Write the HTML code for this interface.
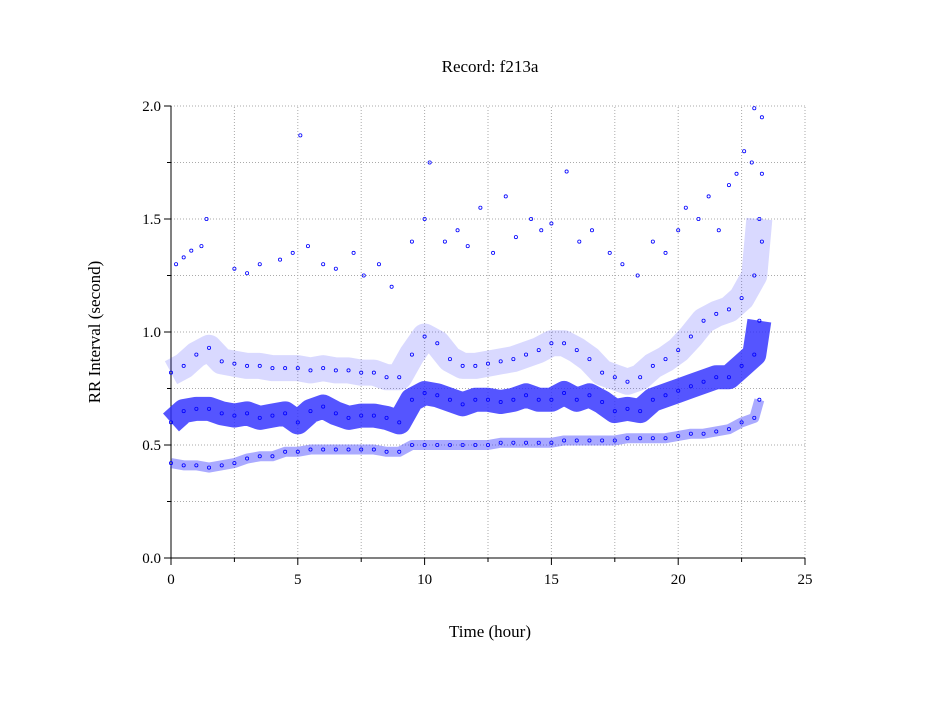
<!DOCTYPE html>
<html><head><meta charset="utf-8"><style>
body{margin:0;background:#fff}
svg text{font-family:"Liberation Serif",serif;fill:#000}
</style></head><body>
<svg id="chart" width="949" height="697">
<text x="490" y="72" font-size="17" text-anchor="middle">Record:  f213a</text>
<text x="490" y="637" font-size="17" text-anchor="middle">Time (hour)</text>
<text transform="translate(100,332) rotate(-90)" font-size="17" text-anchor="middle">RR Interval (second)</text>
<g id="grid"></g>
<g id="axes"></g>
<g id="marks"></g>
</svg>
<script>
const hours=[0,0.5,1,1.5,2,2.5,3,3.5,4,4.5,5,5.5,6,6.5,7,7.5,8,8.5,9,9.5,10,10.5,11,11.5,12,12.5,13,13.5,14,14.5,15,15.5,16,16.5,17,17.5,18,18.5,19,19.5,20,20.5,21,21.5,22,22.5,23,23.2];
const mainRR=[0.6,0.65,0.66,0.66,0.64,0.63,0.64,0.62,0.63,0.64,0.6,0.65,0.67,0.64,0.62,0.63,0.63,0.62,0.6,0.7,0.73,0.72,0.7,0.68,0.7,0.7,0.69,0.7,0.72,0.7,0.7,0.73,0.7,0.72,0.69,0.65,0.66,0.65,0.7,0.72,0.74,0.76,0.78,0.8,0.8,0.85,0.9,1.05];
const lowRR=[0.42,0.41,0.41,0.4,0.41,0.42,0.44,0.45,0.45,0.47,0.47,0.48,0.48,0.48,0.48,0.48,0.48,0.47,0.47,0.5,0.5,0.5,0.5,0.5,0.5,0.5,0.51,0.51,0.51,0.51,0.51,0.52,0.52,0.52,0.52,0.52,0.53,0.53,0.53,0.53,0.54,0.55,0.55,0.56,0.57,0.6,0.62,0.7];
const upperRR=[0.82,0.85,0.9,0.93,0.87,0.86,0.85,0.85,0.84,0.84,0.84,0.83,0.84,0.83,0.83,0.82,0.82,0.8,0.8,0.9,0.98,0.95,0.88,0.85,0.85,0.86,0.87,0.88,0.9,0.92,0.95,0.95,0.92,0.88,0.82,0.8,0.78,0.8,0.85,0.88,0.92,0.98,1.05,1.08,1.1,1.15,1.25,1.5];
const outHours=[0.2,0.5,0.8,1.2,1.4,2.5,3.0,3.5,4.3,4.8,5.1,5.4,6.0,6.5,7.2,7.6,8.2,8.7,9.5,10.0,10.2,10.8,11.3,11.7,12.2,12.7,13.2,13.6,14.2,14.6,15.0,15.6,16.1,16.6,17.3,17.8,18.4,19.0,19.5,20.0,20.3,20.8,21.2,21.6,22.0,22.3,22.6,22.9,23.0,23.3,23.3,23.3];
const outRR=[1.3,1.33,1.36,1.38,1.5,1.28,1.26,1.3,1.32,1.35,1.87,1.38,1.3,1.28,1.35,1.25,1.3,1.2,1.4,1.5,1.75,1.4,1.45,1.38,1.55,1.35,1.6,1.42,1.5,1.45,1.48,1.71,1.4,1.45,1.35,1.3,1.25,1.4,1.35,1.45,1.55,1.5,1.6,1.45,1.65,1.7,1.8,1.75,1.99,1.95,1.7,1.4];
const xTicks=[0,5,10,15,20,25];
const yTicks=[0,0.5,1.0,1.5,2.0];
const NS="http://www.w3.org/2000/svg";
const X=h=>171+h*(805-171)/25, Y=v=>558-v*(558-106)/2;
function mk(tag,attrs,parent){const e=document.createElementNS(NS,tag);for(const k in attrs)e.setAttribute(k,attrs[k]);parent.appendChild(e);return e;}
const grid=document.getElementById('grid'),axes=document.getElementById('axes'),marks=document.getElementById('marks');
for(let h=2.5;h<=25;h+=2.5){const l=mk('line',{x1:X(h),x2:X(h),y1:Y(0),y2:Y(2),stroke:'#aaa','stroke-dasharray':'1,2'},grid);

}
for(let v=0.25;v<=2.001;v+=0.25){const l=mk('line',{x1:X(0),x2:X(25),y1:Y(v),y2:Y(v),stroke:'#aaa','stroke-dasharray':'1,2'},grid);

}
mk('line',{x1:X(0),x2:X(25),y1:Y(0),y2:Y(0),stroke:'#000'},axes);
mk('line',{x1:X(0),x2:X(0),y1:Y(0),y2:Y(2),stroke:'#000'},axes);
for(let h=0;h<=25;h+=2.5){mk('line',{x1:X(h),x2:X(h),y1:Y(0),y2:Y(0)+(h%5==0?7:4),stroke:'#000'},axes);}
for(let v=0;v<=2.001;v+=0.25){mk('line',{x1:X(0)-(Math.round(v*4)%2==0?7:4),x2:X(0),y1:Y(v),y2:Y(v),stroke:'#000'},axes);}
xTicks.forEach(t=>{const e=mk('text',{x:X(t),y:Y(0)+26,'font-size':15,'text-anchor':'middle'},axes);e.textContent=t;

});
yTicks.forEach(t=>{const e=mk('text',{x:X(0)-10,y:Y(t)+5,'font-size':15,'text-anchor':'end'},axes);e.textContent=t.toFixed(1);

});
function band(arr,w,op,name){const p=mk('polyline',{points:hours.map((h,i)=>X(h)+','+Y(arr[i])).join(' '),fill:'none',stroke:'#2a2aff','stroke-width':w,'stroke-opacity':op,'stroke-linejoin':'round'},marks);


hours.forEach((h,i)=>{const c=mk('circle',{cx:X(h),cy:Y(arr[i]),r:1.6,fill:'none',stroke:'#00f','stroke-width':0.8},marks);

});}
band(upperRR,26,0.18,'upper-band');
band(lowRR,10,0.4,'lower-band');
band(mainRR,24,0.8,'main-band');
outHours.forEach((h,i)=>{const c=mk('circle',{cx:X(h),cy:Y(outRR[i]),r:1.6,fill:'none',stroke:'#00f','stroke-width':0.8},marks);

});
</script>
</body></html>
